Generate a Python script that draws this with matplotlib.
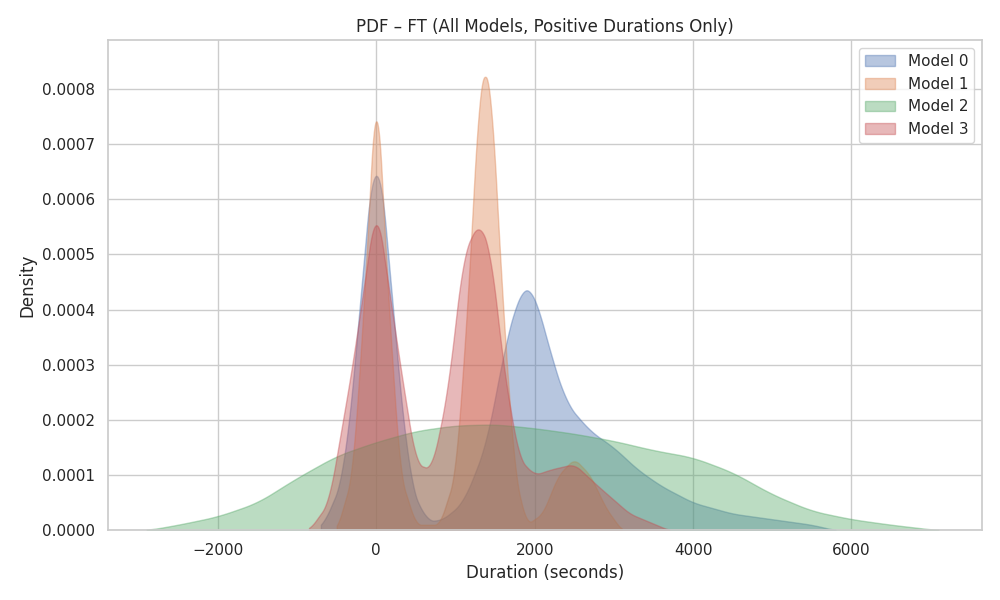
import numpy as np
import matplotlib.pyplot as plt
import seaborn as sns

# density curves (x in seconds, y density)
m0_x = [-700, -400, -200, 0, 200, 400, 600, 800, 1100, 1400, 1600, 1800, 1900, 2000, 2200, 2400, 2700, 3000, 3300, 3600, 4000, 4500, 5000, 5500, 5800]
m0_y = [0, 1e-4, 4.2e-4, 7.4e-4, 4.2e-4, 1e-4, 2e-5, 1.5e-5, 5e-5, 1.6e-4, 3.2e-4, 4.3e-4, 4.45e-4, 4.3e-4, 3.2e-4, 2.3e-4, 1.8e-4, 1.5e-4, 1.1e-4, 8e-5, 5e-5, 3e-5, 2e-5, 1e-5, 0]

m1_x = [-500, -300, -150, 0, 150, 300, 500, 800, 1000, 1150, 1300, 1370, 1450, 1600, 1750, 1900, 2100, 2300, 2500, 2700, 2900, 3100]
m1_y = [0, 1e-4, 4.2e-4, 8.35e-4, 4.2e-4, 1e-4, 1e-5, 1e-5, 1e-4, 4e-4, 8e-4, 8.4e-4, 8e-4, 4e-4, 1e-4, 1e-5, 3e-5, 1e-4, 1.3e-4, 1e-4, 4e-5, 0]

m2_x = [-2900, -2500, -2000, -1500, -1000, -500, 0, 500, 1000, 1500, 2000, 2500, 3000, 3500, 4000, 4500, 5000, 5500, 6000, 6500, 7100]
m2_y = [0, 1e-5, 2.5e-5, 5e-5, 9.5e-5, 1.35e-4, 1.6e-4, 1.8e-4, 1.9e-4, 1.92e-4, 1.85e-4, 1.75e-4, 1.62e-4, 1.45e-4, 1.32e-4, 1.05e-4, 6.5e-5, 3.5e-5, 2e-5, 1e-5, 0]

m3_x = [-850, -600, -300, 0, 300, 500, 700, 900, 1100, 1300, 1450, 1600, 1800, 2000, 2200, 2500, 2800, 3200, 3700]
m3_y = [0, 5e-5, 3e-4, 5.95e-4, 3e-4, 1.2e-4, 1.1e-4, 2.5e-4, 5e-4, 5.6e-4, 5e-4, 3e-4, 1.3e-4, 1e-4, 1.1e-4, 1.2e-4, 8e-5, 3e-5, 0]

models = ["Model 0", "Model 1", "Model 2", "Model 3"]
curves = [(m0_x, m0_y), (m1_x, m1_y), (m2_x, m2_y), (m3_x, m3_y)]

sns.set_theme(style="whitegrid")
fig, ax = plt.subplots(figsize=(10, 6), dpi=100)
colors = sns.color_palette("deep")

for name, (xs, ys), c in zip(models, curves, colors):
    xf = np.linspace(xs[0], xs[-1], 400)
    yf = np.interp(xf, xs, ys)
    # light smoothing of the read-off polyline
    k = np.ones(15) / 15
    yf = np.convolve(np.pad(yf, 7, mode="edge"), k, mode="valid")
    ax.fill_between(xf, yf, color=c, alpha=0.4, label=name, edgecolor=c, linewidth=1)

ax.set_xlim(-3390, 7650)
ax.set_ylim(0, 0.000888)
ax.set_title("PDF – FT (All Models, Positive Durations Only)")
ax.set_xlabel("Duration (seconds)")
ax.set_ylabel("Density")
ax.legend(loc="upper right")
fig.tight_layout()
fig.savefig("out.png")
